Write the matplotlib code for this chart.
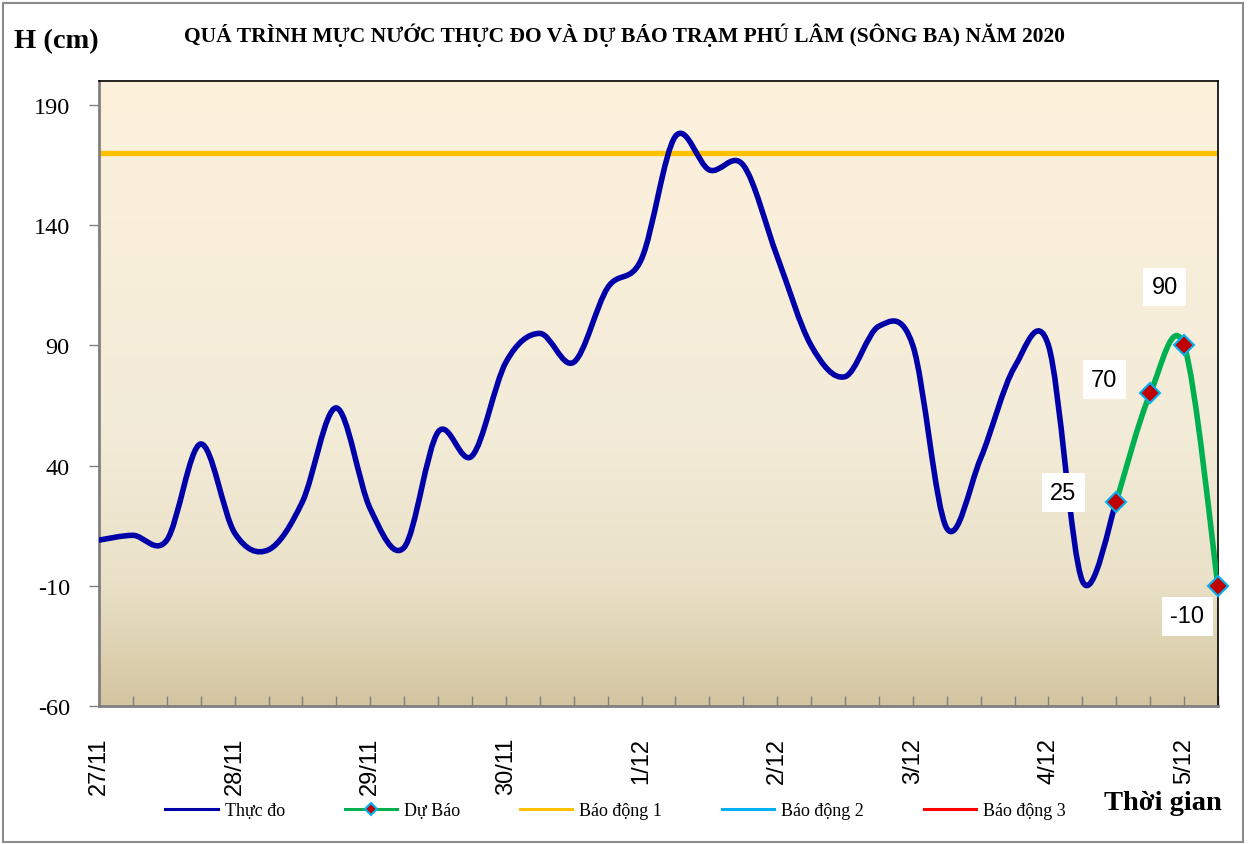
"""
Phu Lam station (Ba river) water level: observed vs forecast, 27/11 - 5/12/2020.
"""
import matplotlib
matplotlib.use("Agg")
import matplotlib.dates as mdates
import matplotlib.pyplot as plt
import numpy as np
import pandas as pd
from matplotlib.lines import Line2D
from matplotlib.patches import PathPatch, Rectangle
from matplotlib.path import Path
from matplotlib.colors import LinearSegmentedColormap

plt.rcParams["axes.unicode_minus"] = False

# ── Data ──────────────────────────────────────────────────────────────────────

obs_times = pd.date_range("2020-11-27 00:00", periods=31, freq="6h")
obs_level = [9, 11, 9, 49, 12, 5, 25, 64, 22, 6, 54, 44, 83, 95, 83, 114,
             126, 177, 163, 165, 127, 90, 77, 98, 90, 14, 43, 81, 90, -8, 25]

fc_times = pd.date_range("2020-12-04 12:00", periods=4, freq="6h")
fc_level = [25, 70, 90, -10]

alarm1 = 170

TITLE = "QUÁ TRÌNH MỰC NƯỚC THỰC ĐO VÀ DỰ BÁO TRẠM PHÚ LÂM (SÔNG BA) NĂM 2020"

# ── Style ─────────────────────────────────────────────────────────────────────

NAVY = "#0000A8"
GREEN = "#00B050"
ORANGE = "#FFC000"
CYAN = "#00B0F0"
RED = "#FF0000"
DARKRED = "#C00000"
SERIF = "Liberation Serif"
SANS = "Liberation Sans"

DPI = 100
W, H = 1249, 845


def smooth_path(x, y):
    """Excel-like smoothed line: Catmull-Rom segments as cubic Beziers."""
    pts = np.column_stack([x, y]).astype(float)
    n = len(pts)
    verts = [pts[0]]
    codes = [Path.MOVETO]
    for i in range(n - 1):
        p0 = pts[max(i - 1, 0)]
        p1 = pts[i]
        p2 = pts[i + 1]
        p3 = pts[min(i + 2, n - 1)]
        c1 = p1 + (p2 - p0) / 6.0
        c2 = p2 - (p3 - p1) / 6.0
        verts += [c1, c2, p2]
        codes += [Path.CURVE4] * 3
    return Path(verts, codes)


fig = plt.figure(figsize=(W / DPI, H / DPI), dpi=DPI)
fig.patch.set_facecolor("white")
fig.patches.append(Rectangle((3 / W, 2 / H), 1 - 9 / W, 1 - 6 / H,
                             transform=fig.transFigure, fill=False,
                             edgecolor="#8C8C8C", linewidth=1.5))

ax = fig.add_axes([99 / W, 1 - 707 / H, (1218 - 99) / W, (707 - 82) / H])

# gradient background (light cream at top, tan at the bottom)
grad = LinearSegmentedColormap.from_list(
    "bg", [(0.0, "#FDF1DC"), (0.55, "#F3ECD8"), (0.8, "#EAE1C8"), (1.0, "#D3C59F")])
ax.imshow(np.linspace(0, 1, 256).reshape(-1, 1), cmap=grad, aspect="auto",
          extent=[0, 1, 0, 1], transform=ax.transAxes, zorder=0)

xo = mdates.date2num(obs_times)
xf = mdates.date2num(fc_times)
x0 = mdates.date2num(pd.Timestamp("2020-11-27 00:00"))
x1 = mdates.date2num(pd.Timestamp("2020-12-05 06:00"))

ax.axhline(alarm1, color=ORANGE, linewidth=3.8, zorder=2)

ax.add_patch(PathPatch(smooth_path(xo, obs_level), fill=False, edgecolor=NAVY,
                       linewidth=4, capstyle="round", joinstyle="round", zorder=3))
ax.add_patch(PathPatch(smooth_path(xf, fc_level), fill=False, edgecolor=GREEN,
                       linewidth=4, capstyle="round", joinstyle="round", zorder=4))
ax.plot(xf, fc_level, linestyle="none", marker="D", markersize=10,
        markerfacecolor=DARKRED, markeredgecolor=CYAN, markeredgewidth=1.5,
        zorder=5, clip_on=False)

# value labels
offsets = [(-38, 6.5), (-33, 10), (-14, 42), (-22, -22)]
for xv, yv, off in zip(xf, fc_level, offsets):
    ax.annotate(f"{yv}", (xv, yv), xytext=off, textcoords="offset points",
                ha="center", va="center", fontsize=17, family=SANS,
                bbox=dict(boxstyle="square,pad=0.35", fc="white", ec="none"),
                zorder=6)

ax.set_xlim(x0, x1)
ax.set_ylim(-60, 200)
ax.set_yticks(np.arange(-60, 191, 50))
ax.tick_params(axis="y", direction="out", length=7, width=1, color="#808080",
               labelsize=17.5, pad=14)
for lab in ax.get_yticklabels():
    lab.set_family(SERIF)

ax.xaxis.set_major_locator(mdates.DayLocator())
ax.xaxis.set_minor_locator(mdates.HourLocator(byhour=[0, 6, 12, 18]))
ax.xaxis.set_major_formatter(plt.FuncFormatter(
    lambda v, p: f"{mdates.num2date(v).day}/{mdates.num2date(v).month}"))
ax.tick_params(axis="x", which="both", direction="in", length=7, width=1,
               color="#808080")
ax.tick_params(axis="x", which="major", labelsize=17, labelrotation=90, pad=22)
for lab in ax.get_xticklabels():
    lab.set_family(SANS)

for side in ("left", "bottom"):
    ax.spines[side].set_color("#808080")
    ax.spines[side].set_linewidth(2)
for side in ("top", "right"):
    ax.spines[side].set_color("black")
    ax.spines[side].set_linewidth(1.2)

# texts
fig.text(14 / W, 1 - 42 / H, "H (cm)", family=SERIF, fontweight="bold",
         fontsize=20.5, va="center", ha="left")
fig.text(625 / W, 1 - 35 / H, TITLE, family=SERIF, fontweight="bold",
         fontsize=15.5, va="center", ha="center")
fig.text(1222 / W, 1 - 804 / H, "Thời gian", family=SERIF, fontweight="bold",
         fontsize=20.5, va="center", ha="right")

# legend
handles = [
    Line2D([], [], color=NAVY, linewidth=2.2),
    Line2D([], [], color=GREEN, linewidth=2.2, marker="D", markersize=6,
           markerfacecolor=DARKRED, markeredgecolor=CYAN, markeredgewidth=1.5),
    Line2D([], [], color=ORANGE, linewidth=2.2),
    Line2D([], [], color=CYAN, linewidth=2.2),
    Line2D([], [], color=RED, linewidth=2.2),
]
labels = ["Thực đo", "Dự Báo", "Báo động 1", "Báo động 2", "Báo động 3"]
fig.legend(handles, labels, loc="center left",
           bbox_to_anchor=(149 / W, 1 - 812 / H), ncol=5, frameon=False,
           prop={"family": SERIF, "size": 13}, handlelength=2.9,
           handletextpad=0.4, columnspacing=3.3)

fig.savefig("out.png", dpi=DPI)
